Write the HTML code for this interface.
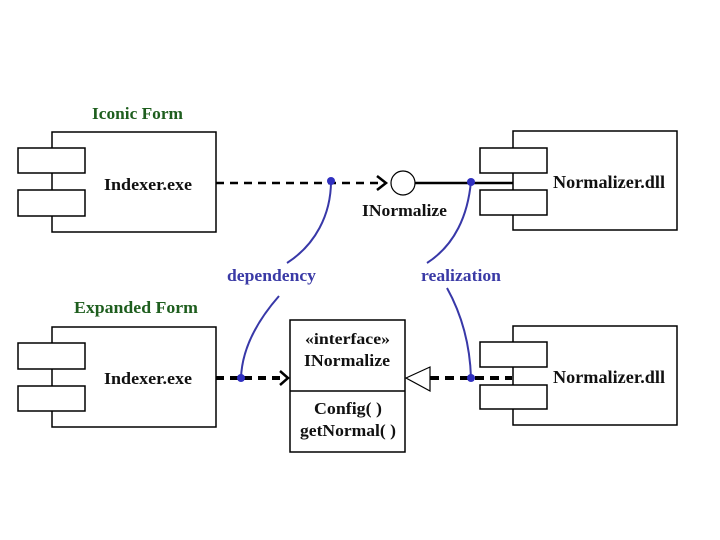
<!DOCTYPE html>
<html><head><meta charset="utf-8"><style>
html,body{margin:0;padding:0;background:#fff;width:720px;height:540px;overflow:hidden}
svg{display:block}
text{font-family:"Liberation Serif",serif;font-weight:bold}
</style></head><body>
<svg width="720" height="540" viewBox="0 0 720 540" xmlns="http://www.w3.org/2000/svg">
<g fill="none" stroke="#000" stroke-width="1.5">
  <rect x="52" y="132" width="164" height="100" fill="#fff"/>
  <rect x="18" y="148" width="67" height="25" fill="#fff"/>
  <rect x="18" y="190" width="67" height="26" fill="#fff"/>
  <rect x="513" y="131" width="164" height="99" fill="#fff"/>
  <rect x="480" y="148" width="67" height="25" fill="#fff"/>
  <rect x="480" y="190" width="67" height="25" fill="#fff"/>
  <rect x="52" y="327" width="164" height="100" fill="#fff"/>
  <rect x="18" y="343" width="67" height="26" fill="#fff"/>
  <rect x="18" y="386" width="67" height="25" fill="#fff"/>
  <rect x="513" y="326" width="164" height="99" fill="#fff"/>
  <rect x="480" y="342" width="67" height="25" fill="#fff"/>
  <rect x="480" y="385" width="67" height="24" fill="#fff"/>
  <rect x="290" y="320" width="115" height="132" fill="#fff"/>
  <line x1="290" y1="391" x2="405" y2="391"/>
  <line x1="216" y1="183" x2="384" y2="183" stroke-width="2.5" stroke-dasharray="8,6"/>
  <polyline points="377,176 386,183 377,190" stroke-width="2.5"/>
  <circle cx="403" cy="183" r="12" stroke-width="1.2"/>
  <line x1="415" y1="183" x2="513" y2="183" stroke-width="2.5"/>
  <line x1="216" y1="378" x2="286" y2="378" stroke-width="4" stroke-dasharray="8,6"/>
  <polyline points="280,371 288,378 280,385" stroke-width="2.5"/>
  <polygon points="406,378 430,367 430,391" stroke-width="1.2"/>
  <line x1="430" y1="378" x2="512" y2="378" stroke-width="4" stroke-dasharray="9,6"/>
</g>
<g fill="none" stroke="#3838a8" stroke-width="2">
  <path d="M331,181 C331,215 315,245 287,263"/>
  <path d="M471,181 C468,215 455,245 427,263"/>
  <path d="M279,296 C258,320 242,348 241,378"/>
  <path d="M447,288 C462,315 470,345 471,378"/>
</g>
<g fill="#3030c0">
  <circle cx="331" cy="181" r="4"/>
  <circle cx="471" cy="182" r="4"/>
  <circle cx="241" cy="378" r="4"/>
  <circle cx="471" cy="378" r="4"/>
</g>
<g font-size="18" fill="#111">
  <text x="104" y="190" font-size="17" textLength="88" lengthAdjust="spacingAndGlyphs">Indexer.exe</text>
  <text x="553" y="188" textLength="112" lengthAdjust="spacingAndGlyphs">Normalizer.dll</text>
  <text x="104" y="384" font-size="17" textLength="88" lengthAdjust="spacingAndGlyphs">Indexer.exe</text>
  <text x="553" y="383" textLength="112" lengthAdjust="spacingAndGlyphs">Normalizer.dll</text>
  <text x="362" y="216" font-size="17" textLength="85" lengthAdjust="spacingAndGlyphs">INormalize</text>
  <text x="305" y="344" font-size="16" textLength="85" lengthAdjust="spacingAndGlyphs">«interface»</text>
  <text x="304" y="366" font-size="17" textLength="86" lengthAdjust="spacingAndGlyphs">INormalize</text>
  <text x="314" y="414" font-size="17" textLength="68" lengthAdjust="spacingAndGlyphs">Config( )</text>
  <text x="300" y="436" font-size="17" textLength="96" lengthAdjust="spacingAndGlyphs">getNormal( )</text>
</g>
<g font-size="17" fill="#1e5e1e">
  <text x="92" y="119" textLength="91" lengthAdjust="spacingAndGlyphs">Iconic Form</text>
  <text x="74" y="313" textLength="124" lengthAdjust="spacingAndGlyphs">Expanded Form</text>
</g>
<g font-size="17" fill="#3a3aa6">
  <text x="227" y="281" textLength="89" lengthAdjust="spacingAndGlyphs">dependency</text>
  <text x="421" y="281" textLength="80" lengthAdjust="spacingAndGlyphs">realization</text>
</g>
</svg>
</body></html>
